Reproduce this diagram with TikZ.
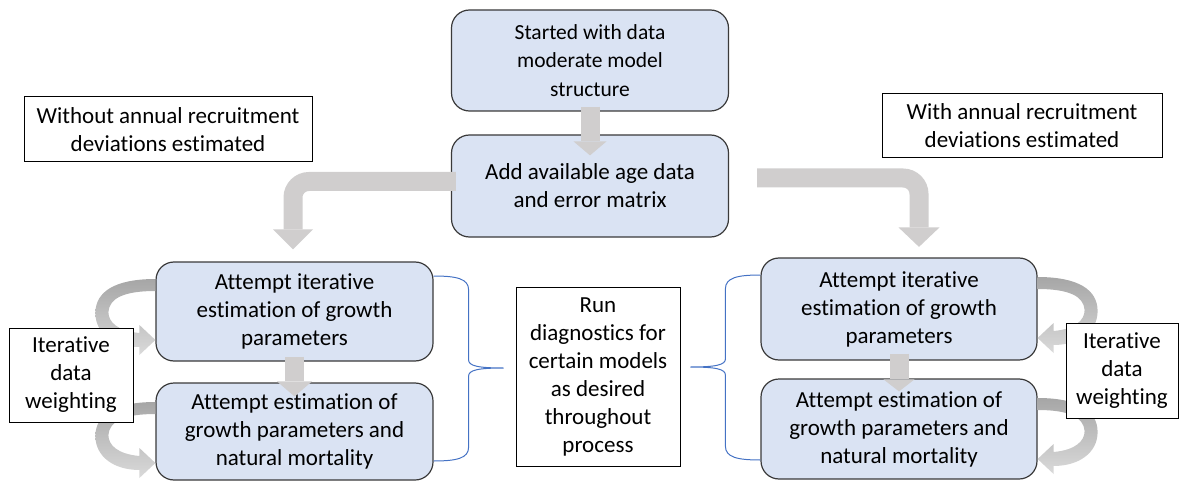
\documentclass[tikz,border=0pt]{standalone}
\usepackage{fontspec}
\setmainfont{Carlito}[Ligatures=NoCommon]
\usetikzlibrary{calc}
\definecolor{boxfill}{HTML}{DAE3F3}
\definecolor{boxline}{HTML}{3A3A3A}
\definecolor{agrey}{HTML}{D0CECE}
\definecolor{loopdark}{HTML}{A6A6A6}
\definecolor{looplight}{HTML}{DADADA}
\definecolor{braceblue}{HTML}{4472C4}
\tikzset{
  bluebox/.style={draw=boxline, line width=1.2pt, fill=boxfill, rounded corners=18pt, align=center, inner sep=0pt, font=\fontsize{23}{28}\selectfont},
  textbox/.style={draw=black, line width=1pt, fill=white, align=center, inner sep=0pt, font=\fontsize{23}{28}\selectfont},
  gshaft/.style={draw=agrey, line width=19pt},
  bracel/.style={draw=braceblue, line width=1pt},
  loopfill/.style={top color=loopdark, bottom color=looplight}
}
\newcommand{\loopshape}{%
  \shade[loopfill] (0,-6) .. controls (-41,-6) and (-60,7) .. (-60,28)
    .. controls (-60,49) and (-41,62) .. (-16,62) -- (-16,70) -- (0,55) -- (-16,40) -- (-16,48)
    .. controls (-38,46) and (-47,37) .. (-47,27) .. controls (-46,13) and (-31,6) .. (0,6) -- cycle;}
\newcommand{\headdn}[3]{\fill[agrey] ($(#1)+(-#2,0)$) -- ($(#1)+(#2,0)$) -- ($(#1)+(0,#3)$) -- cycle;}
\newcommand{\bracepath}{%
  \draw[bracel] (0,0) .. controls (24,0) and (35,3) .. (35,14) -- (35,84)
    .. controls (35,90) and (45,92) .. (70,92) .. controls (45,92) and (35,94) .. (35,100)
    -- (35,171) .. controls (35,182) and (24,185) .. (0,185);}
\begin{document}
\begin{tikzpicture}[x=1pt, y=-1pt]
\useasboundingbox (0,0) rectangle (1180,481);
% text boxes
\node[textbox, minimum width=288pt, minimum height=65pt] (WO) at (168,129.5) {Without annual recruitment\\deviations estimated};
\node[textbox, minimum width=280pt, minimum height=64pt] (W) at (1022,126) {With annual recruitment\\deviations estimated};
% blue boxes
\node[bluebox, minimum width=277pt, minimum height=101pt, font=\fontsize{21.5}{28.5}\selectfont] (T) at (590,60.5) {Started with data\\moderate model\\structure};
\node[bluebox, minimum width=277pt, minimum height=102pt] (A) at (590,186) {Add available age data\\and error matrix};
\node[bluebox, minimum width=277pt, minimum height=99pt] (L1) at (294.5,311.5) {Attempt iterative\\estimation of growth\\parameters};
\node[bluebox, minimum width=277pt, minimum height=97pt] (L2) at (294.5,431.5) {Attempt estimation of\\growth parameters and\\natural mortality};
\node[bluebox, minimum width=276pt, minimum height=102pt] (R1) at (899,309) {Attempt iterative\\estimation of growth\\parameters};
\node[bluebox, minimum width=276pt, minimum height=100pt] (R2) at (899,429) {Attempt estimation of\\growth parameters and\\natural mortality};
\node[textbox, minimum width=164pt, minimum height=179pt] (C) at (598,376.5) {Run\\diagnostics for\\certain models\\as desired\\throughout\\process};
% braces
\coordinate (bl) at ([yshift=35.5pt]L1.east);
\coordinate (br) at ([yshift=34pt]R1.west);
\begin{scope}[shift={(bl)}]\bracepath\end{scope}
\begin{scope}[shift={(br)}, xscale=-1]\bracepath\end{scope}
% loops
\coordinate (lp1) at ([yshift=26.5pt]L1.west);
\coordinate (lp2) at ([yshift=23.5pt]L2.west);
\coordinate (rp1) at ([yshift=26pt]R1.east);
\coordinate (rp2) at ([yshift=25pt]R2.east);
\begin{scope}[shift={(lp1)}]\loopshape\end{scope}
\begin{scope}[shift={(lp2)}]\loopshape\end{scope}
\begin{scope}[shift={(rp1)}, xscale=-1]\loopshape\end{scope}
\begin{scope}[shift={(rp2)}, xscale=-1]\loopshape\end{scope}
% iterative data weighting
\node[textbox, minimum width=124pt, minimum height=94pt] (IL) at (71,375) {Iterative\\data\\weighting};
\node[textbox, minimum width=112pt, minimum height=95pt] (IR) at (1122,370.5) {Iterative\\data\\weighting};
% grey arrows
\draw[gshaft] ([yshift=5pt]T.south) -- ([yshift=-7pt]A.north) coordinate (hTA);
\headdn{hTA}{16.5}{14}
\draw[gshaft] ([yshift=5pt]L1.south) -- ([yshift=1pt]L2.north) coordinate (hL12);
\headdn{hL12}{17.5}{15}
\draw[gshaft] ([yshift=7pt]R1.south) -- ([yshift=-1pt]R2.north) coordinate (hR12);
\headdn{hR12}{15.5}{12}
\draw[gshaft, rounded corners=16pt] ([shift={(5,-4.5)}]A.west) -| ([shift={(-1.5,-32)}]L1.north) coordinate (hL);
\headdn{hL}{20}{20}
\draw[gshaft, rounded corners=16pt] ([shift={(28,-8)}]A.east) -| ([shift={(20,-30)}]R1.north) coordinate (hR);
\headdn{hR}{20.5}{19.5}
\end{tikzpicture}
\end{document}
